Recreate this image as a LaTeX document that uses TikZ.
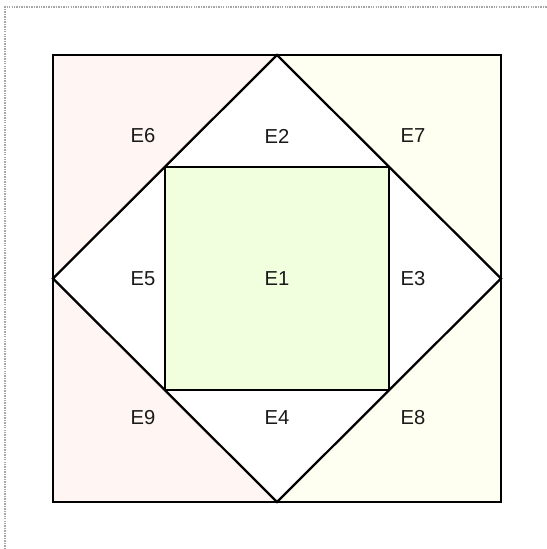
\documentclass[tikz,border=0pt]{standalone}
\usepackage{fontspec}
\setmainfont{Liberation Sans}
\usetikzlibrary{positioning}
\definecolor{leftpink}{RGB}{255,245,243}
\definecolor{rightcream}{RGB}{255,255,241}
\definecolor{centergreen}{RGB}{242,255,223}

\begin{document}
\begin{tikzpicture}[
    x=0.02cm, y=-0.02cm,
    edgeline/.style={draw=black, line width=1.3pt, line join=miter},
    lbl/.style={font=\fontsize{11.5}{13}\selectfont, text=black!90}
]
    \useasboundingbox (0,0) rectangle (547,549);
    % Frame
    \draw[gray!70, line width=0.7pt, dash pattern=on 0.8pt off 0.6pt] (5,549) -- (5,7) -- (547,7);

    % Corners and diamond tips
    \coordinate (tl) at (53,55);
    \coordinate (br) at (501,502);
    \coordinate (dtop) at (277,55);
    \coordinate (dright) at (501,278.5);
    \coordinate (dbot) at (277,502);
    \coordinate (dleft) at (53,278.5);
    \coordinate (itl) at (165,167);
    \coordinate (ibr) at (389,390);

    % Fills
    \fill[leftpink] (tl) rectangle (dbot);
    \fill[rightcream] (dtop) rectangle (br);
    \fill[white] (dtop) -- (dright) -- (dbot) -- (dleft) -- cycle;
    \fill[centergreen] (itl) rectangle (ibr);

    % Outlines
    \draw[edgeline] (tl) rectangle (br);
    \draw[edgeline] (dtop) -- (dright) -- (dbot) -- (dleft) -- cycle;
    \draw[edgeline] (itl) rectangle (ibr);

    % Labels
    \node[lbl] (e6) at (143,136) {E6};
    \node[lbl] (e2) at (277,136) {E2};
    \node[lbl] (e7) at (413,136) {E7};
    \node[lbl] (e5) at (143,279) {E5};
    \node[lbl] (e1) at (277,279) {E1};
    \node[lbl] (e3) at (413,279) {E3};
    \node[lbl] (e9) at (143,418) {E9};
    \node[lbl] (e4) at (277,418) {E4};
    \node[lbl] (e8) at (413,418) {E8};
\end{tikzpicture}
\end{document}
